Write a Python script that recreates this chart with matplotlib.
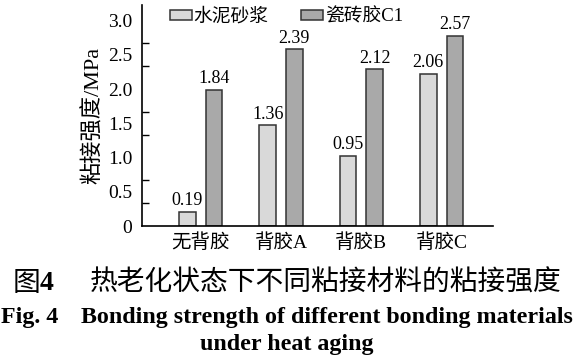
import numpy as np
import matplotlib
import matplotlib.pyplot as plt

matplotlib.use("Agg")
plt.rcParams["font.family"] = ["Liberation Serif", "Noto Sans CJK SC"]

groups = ["无背胶", "背胶A", "背胶B", "背胶C"]
series = ["水泥砂浆", "瓷砖胶C1"]
mortar = [0.19, 1.36, 0.95, 2.06]
tile_glue = [1.84, 2.39, 2.12, 2.57]
ytick_text = ["0", "0.5", "1.0", "1.5", "2.0", "2.5", "3.0"]
# the printed axis text sits a bit below the bar scale in the original
label_scale = 0.926

W, H = 577, 359
fig = plt.figure(figsize=(W / 100, H / 100), dpi=100)
ax = fig.add_axes([142 / W, 1 - 226 / H, (493 - 142) / W, (226 - 5) / H])

x = np.arange(len(groups))
w = 0.208
off = 0.166
b1 = ax.bar(x - off, mortar, w, color="#d9d9d9", edgecolor="#333333",
            linewidth=1.1, label=series[0])
b2 = ax.bar(x + off, tile_glue, w, color="#a9a9a9", edgecolor="#333333",
            linewidth=1.1, label=series[1])
for bars, vals in ((b1, mortar), (b2, tile_glue)):
    for r, v in zip(bars, vals):
        ax.annotate(f"{v:.2f}", (r.get_x() + r.get_width() / 2, v),
                    xytext=(0, 2), textcoords="offset points",
                    ha="center", va="bottom", fontsize=13)

ax.set_xlim(-0.731, 3.64)
ax.set_ylim(0, 2.99)
ax.set_xticks(x)
ax.set_xticklabels(groups, fontsize=14)
ax.tick_params(axis="x", length=0, pad=5)

yt = np.arange(len(ytick_text)) * 0.5 * label_scale
ax.set_yticks(yt)
ax.set_yticklabels(ytick_text, fontsize=14)
ax.set_yticks(np.linspace(0, yt[-1], 10), minor=True)
ax.tick_params(axis="y", which="major", length=0, pad=7)
ax.tick_params(axis="y", which="minor", direction="in", length=5, width=1)
ax.set_ylabel("粘接强度/MPa", fontsize=16, labelpad=3)

for s in ("top", "right"):
    ax.spines[s].set_visible(False)
for s in ("left", "bottom"):
    ax.spines[s].set_linewidth(1.2)

ax.legend(loc="center left", bbox_to_anchor=(170 / W, 1 - 17 / H),
          bbox_transform=fig.transFigure, ncol=2, frameon=False,
          fontsize=13.5, handlelength=1.16, handleheight=0.48,
          handletextpad=0.1, columnspacing=1.75, borderpad=0,
          borderaxespad=0)

cjk = ["Noto Sans CJK SC", "DejaVu Sans"]
fig.text(13 / W, 1 - 283 / H, "图", family=cjk, fontsize=20,
         fontweight="medium", va="center")
fig.text(40 / W, 1 - 283 / H, "4", fontsize=20, fontweight="bold",
         va="center")
fig.text(90 / W, 1 - 283 / H, "热老化状态下不同粘接材料的粘接强度",
         family=cjk, fontsize=20, fontweight="medium", va="center")
fig.text(1 / W, 1 - 323 / H, "Fig. 4", fontsize=17.3, fontweight="bold",
         va="baseline")
fig.text(81 / W, 1 - 323 / H,
         "Bonding strength of different bonding materials",
         fontsize=17.3, fontweight="bold", va="baseline")
fig.text(287 / W, 1 - 350 / H, "under heat aging", fontsize=17.3,
         fontweight="bold", va="baseline", ha="center")

plt.savefig("out.png", dpi=100)
